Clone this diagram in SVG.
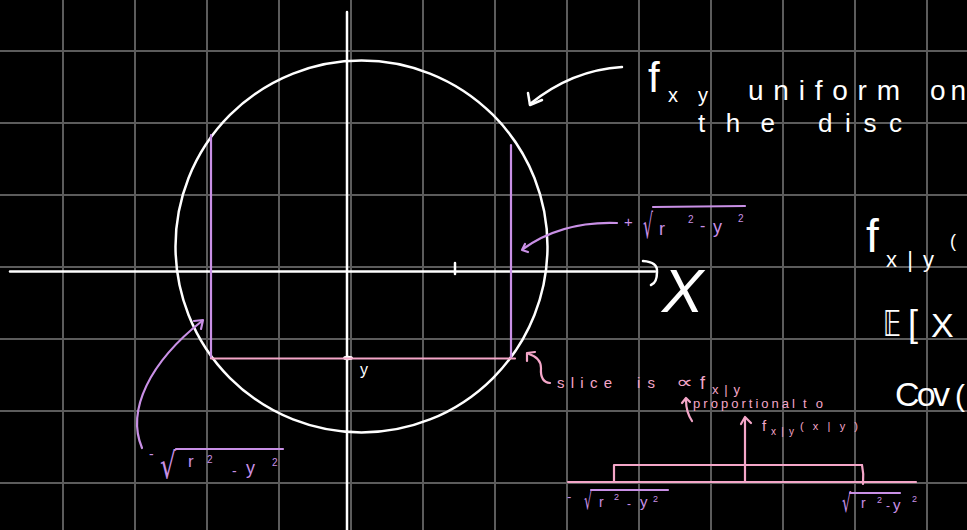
<svg xmlns="http://www.w3.org/2000/svg" width="967" height="530" viewBox="0 0 967 530">
<style>
.grid line{stroke:#5c5c5c;stroke-width:2}
.w{fill:none;stroke:#ffffff;stroke-width:2.5;stroke-linecap:round;stroke-linejoin:round}
.pu{fill:none;stroke:#c990e6;stroke-width:2.2;stroke-linecap:round;stroke-linejoin:round}
.pk{fill:none;stroke:#f4a6c8;stroke-width:2.2;stroke-linecap:round;stroke-linejoin:round}
text{font-family:"Liberation Sans","DejaVu Sans",sans-serif}
.tw{fill:#ffffff}
.tpu{fill:#c990e6}
.tpk{fill:#f4a6c8}
.rad{font-family:"DejaVu Sans",sans-serif}
</style>
<rect x="0" y="0" width="967" height="530" fill="#000000"/>
<g id="grid" class="grid">
<line x1="63" y1="0" x2="63" y2="530"/><line x1="135" y1="0" x2="135" y2="530"/><line x1="207" y1="0" x2="207" y2="530"/><line x1="279" y1="0" x2="279" y2="530"/><line x1="351" y1="0" x2="351" y2="530"/><line x1="423" y1="0" x2="423" y2="530"/><line x1="495" y1="0" x2="495" y2="530"/><line x1="567" y1="0" x2="567" y2="530"/><line x1="639" y1="0" x2="639" y2="530"/><line x1="711" y1="0" x2="711" y2="530"/><line x1="783" y1="0" x2="783" y2="530"/><line x1="855" y1="0" x2="855" y2="530"/><line x1="927" y1="0" x2="927" y2="530"/>
<line x1="0" y1="51" x2="967" y2="51"/><line x1="0" y1="123" x2="967" y2="123"/><line x1="0" y1="195" x2="967" y2="195"/><line x1="0" y1="267" x2="967" y2="267"/><line x1="0" y1="339" x2="967" y2="339"/><line x1="0" y1="411" x2="967" y2="411"/><line x1="0" y1="483" x2="967" y2="483"/>
</g>
<g id="disc">
<circle class="w" cx="361.5" cy="246.5" r="186"/>
</g>
<g id="axes">
<line class="w" x1="347" y1="12" x2="347" y2="530"/>
<line class="w" x1="10" y1="271.5" x2="655" y2="271.5"/>
<path class="w" d="M643 261 Q658 262 657 272 Q657 283 651 285"/>
<line class="w" x1="455" y1="263" x2="455" y2="274"/>
<ellipse cx="348" cy="358" rx="5" ry="2.2" fill="#ffffff"/>
<text class="tw" x="662" y="312" font-size="62" font-style="italic">X</text>
<text class="tw" x="360" y="375" font-size="16">y</text>
</g>
<g id="slice">
<line class="pu" x1="211" y1="135" x2="211" y2="358"/>
<line class="pu" x1="511" y1="145" x2="511" y2="358"/>
<line class="pk" x1="211" y1="358.5" x2="515" y2="358.5"/>
</g>
<g id="connectors">
<path class="w" d="M622 67 Q572 70 530 104"/>
<polyline class="w" points="528,93 530,105 542,100"/>
<path class="pu" d="M617 223 Q562 221 523 249"/>
<polyline class="pu" points="525,244 522,250 528,252"/>
<path class="pu" d="M142 448 C126 410 150 362 202 321"/>
<polyline class="pu" points="194,321 203,320 201,329"/>
<path class="pk" d="M550 383 Q540 382 541 368 Q541 358 529 354"/>
<polyline class="pk" points="527,361 527,353 535,352"/>
<path class="pk" d="M692 421 Q686 412 686 400"/>
<polyline class="pk" points="682,403 686,398 690,402"/>
<line class="pk" x1="745" y1="482" x2="745" y2="418"/>
<polyline class="pk" points="741,424 745,417 751,423"/>
</g>
<g id="label-uniform">
<text class="tw" x="648" y="92" font-size="42">f</text>
<text class="tw" x="668" y="102" font-size="20" textLength="40">xy</text>
<text class="tw" x="748" y="100" font-size="28" textLength="152">uniform</text>
<text class="tw" x="930" y="100" font-size="28" textLength="36">on</text>
<text class="tw" x="698" y="132" font-size="26" textLength="77">the</text>
<text class="tw" x="818" y="132" font-size="26" textLength="84">disc</text>
</g>
<g id="label-plus-root">
<text class="tpu" x="624" y="227" font-size="15">+</text>
<text class="tpu rad" transform="translate(643 238) scale(0.46 1)" x="0" y="0" font-size="34">√</text>
<line class="pu" x1="653" y1="207" x2="745" y2="206"/>
<text class="tpu" x="659" y="235" font-size="18">r</text>
<text class="tpu" x="688" y="223" font-size="10">2</text>
<text class="tpu" x="700" y="231" font-size="16">-</text>
<text class="tpu" x="713" y="233" font-size="18">y</text>
<text class="tpu" x="738" y="222" font-size="10">2</text>
</g>
<g id="label-minus-root">
<text class="tpu" x="149" y="459" font-size="14">-</text>
<text class="tpu rad" x="160" y="478" font-size="36" textLength="16" lengthAdjust="spacingAndGlyphs">√</text>
<line class="pu" x1="176" y1="449" x2="283" y2="449"/>
<text class="tpu" x="188" y="467" font-size="17">r</text>
<text class="tpu" x="207" y="463" font-size="10">2</text>
<text class="tpu" x="232" y="476" font-size="14">-</text>
<text class="tpu" x="246" y="474" font-size="18">y</text>
<text class="tpu" x="272" y="466" font-size="10">2</text>
</g>
<g id="label-slice">
<text class="tpk" x="557" y="388" font-size="15" textLength="55">slice</text>
<text class="tpk" x="637" y="388" font-size="15" textLength="18">is</text>
<text class="tpk rad" x="676" y="388" font-size="17" textLength="17" lengthAdjust="spacingAndGlyphs">∝</text>
<text class="tpk" x="700" y="389" font-size="18">f</text>
<text class="tpk" x="712" y="394" font-size="13" textLength="28">x|y</text>
<text class="tpk" x="693" y="408" font-size="13" textLength="102">proportional</text>
<text class="tpk" x="803" y="408" font-size="13" textLength="20">to</text>
<text class="tpk" x="762" y="431" font-size="15">f</text>
<text class="tpk" x="771" y="435" font-size="10" textLength="23">x|y</text>
<text class="tpk" x="800" y="430" font-size="11" textLength="58">(x|y)</text>
</g>
<g id="conditional-plot">
<line class="pk" x1="568" y1="482" x2="916" y2="482"/>
<polyline class="pk" points="614,482 614,465 862,465"/>
<path class="pk" d="M862 465 Q864 474 863 484"/>
</g>
<g id="label-bottom-left">
<text class="tpu" x="567" y="501" font-size="13">-</text>
<text class="tpu rad" x="584" y="509" font-size="24" textLength="8" lengthAdjust="spacingAndGlyphs">√</text>
<line class="pu" x1="591" y1="490" x2="668" y2="490"/>
<text class="tpu" x="599" y="507" font-size="14">r</text>
<text class="tpu" x="614" y="500" font-size="9">2</text>
<text class="tpu" x="627" y="508" font-size="12">-</text>
<text class="tpu" x="640" y="507" font-size="15">y</text>
<text class="tpu" x="653" y="502" font-size="9">2</text>
</g>
<g id="label-bottom-right">
<text class="tpu rad" x="842" y="512" font-size="26" textLength="9" lengthAdjust="spacingAndGlyphs">√</text>
<line class="pu" x1="850" y1="493" x2="900" y2="493"/>
<text class="tpu" x="861" y="508" font-size="14">r</text>
<text class="tpu" x="877" y="503" font-size="9">2</text>
<text class="tpu" x="886" y="510" font-size="12">-</text>
<text class="tpu" x="893" y="510" font-size="15">y</text>
<text class="tpu" x="912" y="502" font-size="9">2</text>
</g>
<g id="label-right">
<text class="tw" x="866" y="252" font-size="46">f</text>
<text class="tw" x="886" y="267" font-size="22" textLength="48">x|y</text>
<text class="tw" x="950" y="247" font-size="18">(</text>
<text class="tw rad" x="883" y="336" font-size="36" textLength="18" lengthAdjust="spacingAndGlyphs">𝔼</text>
<text class="tw" x="908" y="336" font-size="36">[</text>
<text class="tw" x="931" y="337" font-size="34">X</text>
<text class="tw" x="895" y="406" font-size="34" textLength="55">Cov</text>
<text class="tw" x="955" y="406" font-size="30">(</text>
</g>
</svg>
